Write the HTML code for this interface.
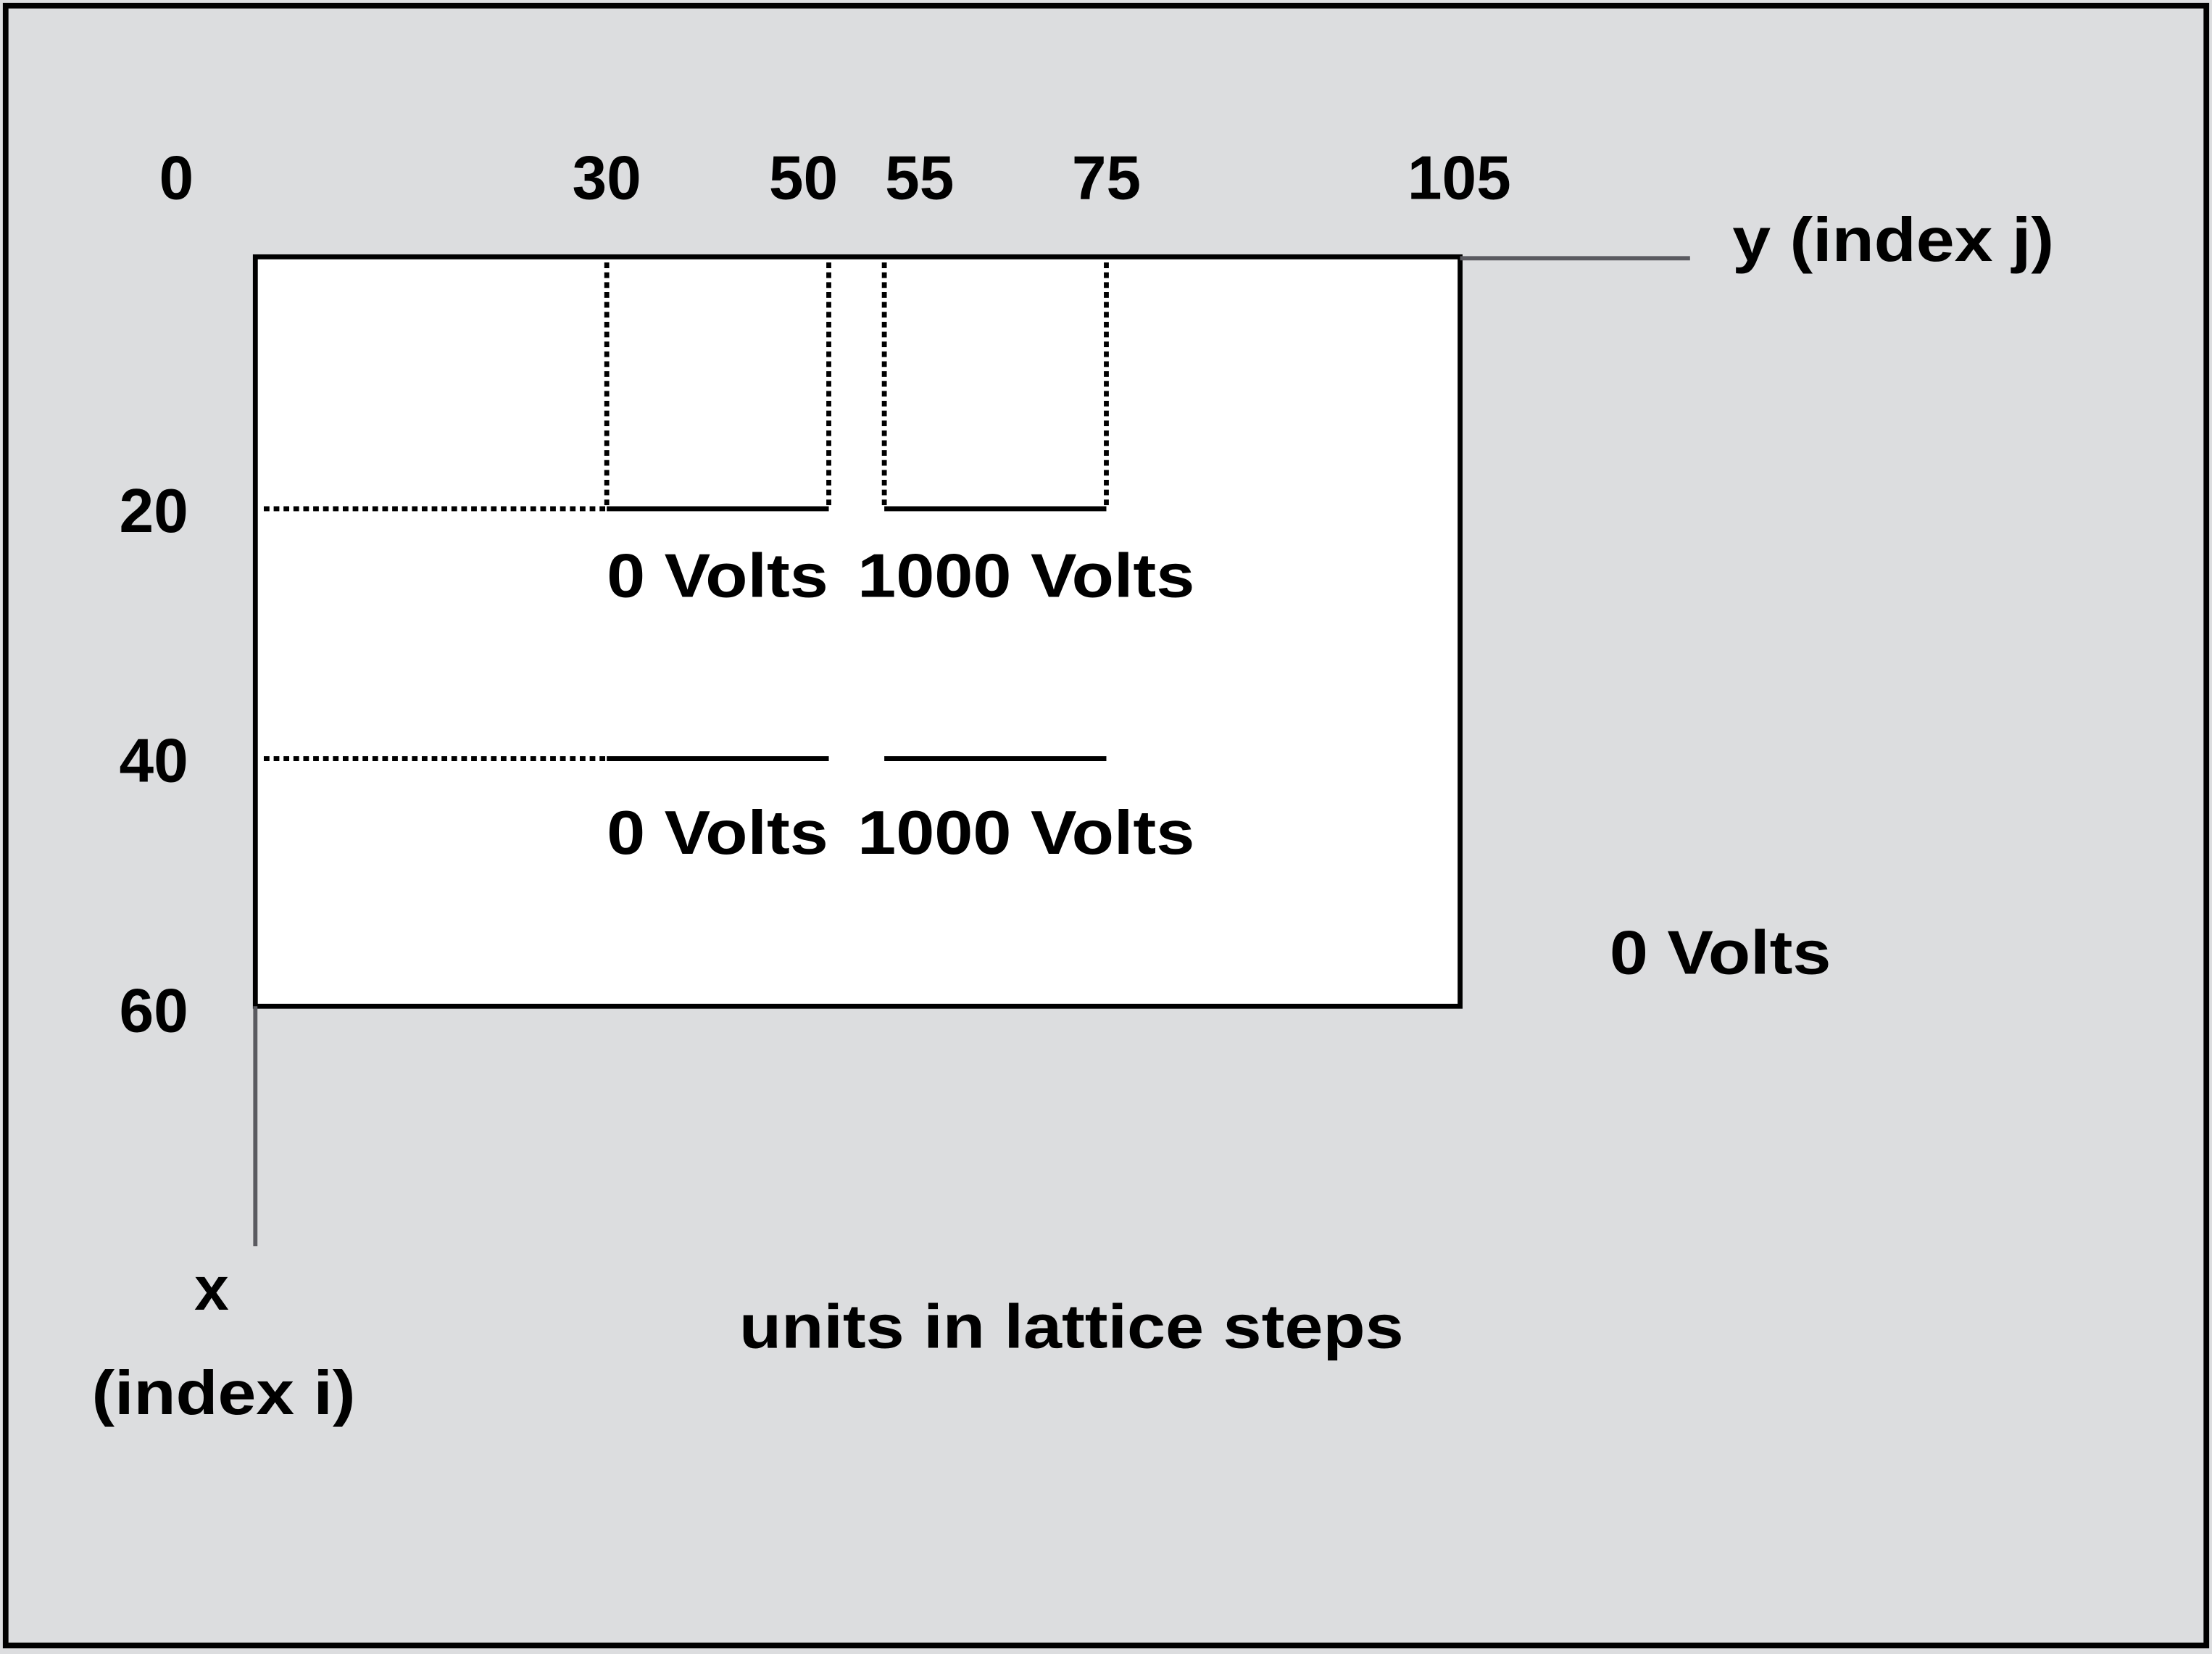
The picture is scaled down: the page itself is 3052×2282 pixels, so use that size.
<!DOCTYPE html>
<html><head><meta charset="utf-8"><style>
html,body{margin:0;padding:0;background:#dcdddf;}
svg{display:block;}
text{font-family:"Liberation Sans",Arial,sans-serif;font-weight:bold;fill:#000;}
</style></head><body>
<svg id="chart" width="3052" height="2282" viewBox="0 0 1568 1172" preserveAspectRatio="none" xmlns="http://www.w3.org/2000/svg">
<rect x="4" y="4" width="1560" height="1162" fill="#dcdddf" stroke="#000" stroke-width="4"/>
<rect x="181" y="182" width="854" height="531" fill="#fff" stroke="#000" stroke-width="3.5"/>
<line x1="1035" y1="183" x2="1198" y2="183" stroke="#5a5a60" stroke-width="3"/>
<line x1="181" y1="713" x2="181" y2="883" stroke="#5a5a60" stroke-width="3"/>
<g id="marks"></g>
<g id="labels"></g>
<text x="1228" y="185" font-size="44" textLength="228" lengthAdjust="spacingAndGlyphs">y (index j)</text>
<text x="150" y="928" font-size="44" text-anchor="middle">x</text>
<text x="65" y="1002" font-size="44" textLength="187" lengthAdjust="spacingAndGlyphs">(index i)</text>
<text x="524" y="955" font-size="44" textLength="471" lengthAdjust="spacingAndGlyphs">units in lattice steps</text>
<text x="1141" y="690" font-size="44" textLength="157" lengthAdjust="spacingAndGlyphs">0 Volts</text>
</svg>
<script>
const jTicks=[0,30,50,55,75,105];
const iTicks=[20,40,60];
const plateRows=[20,40];
const plateStarts=[30,55];
const plateEnds=[50,75];
const plateVolts=["0 Volts","1000 Volts"];
const NS="http://www.w3.org/2000/svg";
const X=j=>194+j*7.87;
const Y=i=>182+i*(531/60);
const labelDx={0:-69,50:-18,55:25,105:14};
const voltWidth=[157,239];
const voltDx=[0,-19];
const marks=document.getElementById('marks');
const labels=document.getElementById('labels');
function mk(tag,attrs,parent){const e=document.createElementNS(NS,tag);for(const k in attrs)e.setAttribute(k,attrs[k]);parent.appendChild(e);return e;}
[...plateStarts,...plateEnds].forEach(j=>{
  const l=mk('line',{x1:X(j),y1:Y(0)+4,x2:X(j),y2:Y(plateRows[0]),stroke:'#000','stroke-width':3.5,'stroke-dasharray':'4,3'},marks);
  
  
});
plateRows.forEach((r,ri)=>{
  const g=mk('line',{x1:187,y1:Y(r)+1.5,x2:X(plateStarts[0]),y2:Y(r)+1.5,stroke:'#000','stroke-width':3.5,'stroke-dasharray':'4,3'},marks);
  
  
  plateStarts.forEach((s,k)=>{
    const p=mk('line',{x1:X(s),y1:Y(r)+1.5,x2:X(plateEnds[k]),y2:Y(r)+1.5,stroke:'#000','stroke-width':3.5},marks);
    
    
    const t=mk('text',{x:X(s)+voltDx[k],y:Y(r)+(ri==0?64:69),'font-size':44,textLength:voltWidth[k],lengthAdjust:'spacingAndGlyphs'},labels);
    t.textContent=plateVolts[k];
    
    
  });
});
jTicks.forEach(j=>{
  const t=mk('text',{x:X(j)+(labelDx[j]||0),y:141,'font-size':44,'text-anchor':'middle'},labels);
  t.textContent=j;
  
  
});
iTicks.forEach(i=>{
  const t=mk('text',{x:109,y:Y(i)+18,'font-size':44,'text-anchor':'middle'},labels);
  t.textContent=i;
  
  
});
</script>
</body></html>
